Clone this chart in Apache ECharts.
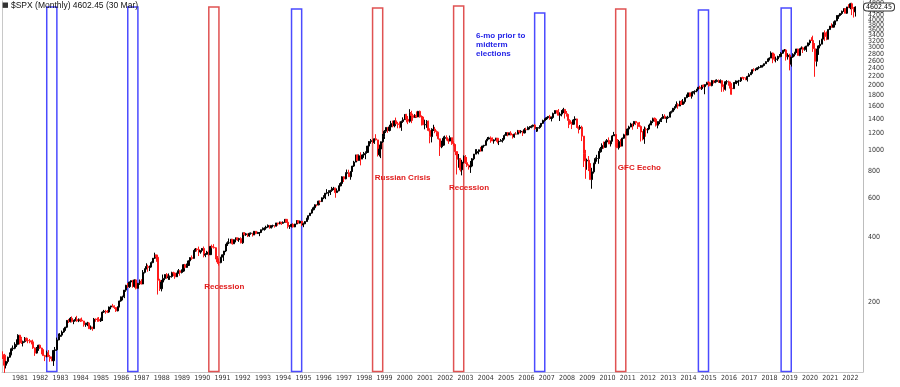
<!DOCTYPE html>
<html><head><meta charset="utf-8">
<script src="https://cdn.jsdelivr.net/npm/echarts@6/dist/echarts.min.js"></script>
<style>html,body{margin:0;padding:0;background:#fff}#c{width:900px;height:387px}</style>
</head><body><div id="c"></div>
<script>
// ---------------- DATA ----------------
const titleText = '$SPX (Monthly) 4602.45 (30 Mar)';
const startYear = 1980, startMonth = 2;      // first monthly bar: Feb 1980
const firstOpen = 114.16;                     // Jan 1980 close
const lastPrice = 4602.45;

// monthly closes
const closes = [
 113.66,102.09,106.29,111.24,114.24,121.67,122.38,125.46,127.47,140.52,135.76,
 129.55,131.27,136.00,132.81,132.59,131.21,130.92,122.79,116.18,121.89,126.35,122.55,
 120.40,113.11,111.96,116.44,111.88,109.61,107.09,119.51,120.42,133.71,138.54,140.64,
 145.30,148.06,152.96,164.42,162.39,168.11,162.56,164.40,166.07,163.55,166.40,164.93,
 163.41,157.06,159.18,160.05,150.55,153.18,150.66,166.68,166.10,166.09,163.58,167.24,
 179.63,181.18,180.66,179.83,189.55,191.85,190.92,188.63,182.08,189.82,202.17,211.28,
 211.78,226.92,238.90,235.52,247.35,250.84,236.12,252.93,231.32,243.98,249.22,242.17,
 274.08,284.20,291.70,288.36,290.10,304.00,318.66,329.80,321.83,251.79,230.30,247.08,
 257.07,267.82,258.89,261.33,262.16,273.50,272.02,261.52,271.91,278.97,273.70,277.72,
 297.47,288.86,294.87,309.64,320.52,317.98,346.08,351.45,349.15,340.36,345.99,353.40,
 329.08,331.89,339.94,330.80,361.23,358.02,356.15,322.56,306.05,304.00,322.22,330.22,
 343.93,367.07,375.22,375.35,389.83,371.16,387.81,395.43,387.86,392.45,375.22,417.09,
 408.79,412.70,403.69,414.95,415.35,408.14,424.21,414.03,417.80,418.68,431.35,435.71,
 438.78,443.38,451.67,440.19,450.19,450.53,448.13,463.56,458.93,467.83,461.79,466.45,
 481.61,467.14,445.77,450.91,456.50,444.27,458.26,475.49,462.69,472.35,453.69,459.27,
 470.42,487.39,500.71,514.71,533.40,544.75,562.06,561.88,584.41,581.50,605.37,615.93,
 636.02,640.43,645.50,654.17,669.12,670.63,639.95,651.99,687.31,705.27,757.02,740.74,
 786.16,790.82,757.12,801.34,848.28,885.14,954.29,899.47,947.28,914.62,955.40,970.43,
 980.28,1049.34,1101.75,1111.75,1090.82,1133.84,1120.67,957.28,1017.01,1098.67,1163.63,1229.23,
 1279.64,1238.33,1286.37,1335.18,1301.84,1372.71,1328.72,1320.41,1282.71,1362.93,1388.91,1469.25,
 1394.46,1366.42,1498.58,1452.43,1420.60,1454.60,1430.83,1517.68,1436.51,1429.40,1314.95,1320.28,
 1366.01,1239.94,1160.33,1249.46,1255.82,1224.42,1211.23,1133.58,1040.94,1059.78,1139.45,1148.08,
 1130.20,1106.73,1147.39,1076.92,1067.14,989.82,911.62,916.07,815.28,885.76,936.31,879.82,
 855.70,841.15,848.18,916.92,963.59,974.50,990.31,1008.01,995.97,1050.71,1058.20,1111.92,
 1131.13,1144.94,1126.21,1107.30,1120.68,1140.84,1101.72,1104.24,1114.58,1130.20,1173.82,1211.92,
 1181.27,1203.60,1180.59,1156.85,1191.50,1191.33,1234.18,1220.33,1228.81,1207.01,1249.48,1248.29,
 1280.08,1280.66,1294.87,1310.61,1270.09,1270.20,1276.66,1303.82,1335.85,1377.94,1400.63,1418.30,
 1438.24,1406.82,1420.86,1482.37,1530.62,1503.35,1455.27,1473.99,1526.75,1549.38,1481.14,1468.36,
 1378.55,1330.63,1322.70,1385.59,1400.38,1280.00,1267.38,1282.83,1166.36,968.75,896.24,903.25,
 825.88,735.09,797.87,872.81,919.14,919.32,987.48,1020.62,1057.08,1036.19,1095.63,1115.10,
 1073.87,1104.49,1169.43,1186.69,1089.41,1030.71,1101.60,1049.33,1141.20,1183.26,1180.55,1257.64,
 1286.12,1327.22,1325.83,1363.61,1345.20,1320.64,1292.28,1218.89,1131.42,1253.30,1246.96,1257.60,
 1312.41,1365.68,1408.47,1397.91,1310.33,1362.16,1379.32,1406.58,1440.67,1412.16,1416.18,1426.19,
 1498.11,1514.68,1569.19,1597.57,1630.74,1606.28,1685.73,1632.97,1681.55,1756.54,1805.81,1848.36,
 1782.59,1859.45,1872.34,1883.95,1923.57,1960.23,1930.67,2003.37,1972.29,2018.05,2067.56,2058.90,
 1994.99,2104.50,2067.89,2085.51,2107.39,2063.11,2103.84,1972.18,1920.03,2079.36,2080.41,2043.94,
 1940.24,1932.23,2059.74,2065.30,2096.95,2098.86,2173.60,2170.95,2168.27,2126.15,2198.81,2238.83,
 2278.87,2363.64,2362.72,2384.20,2411.80,2423.41,2470.30,2471.65,2519.36,2575.26,2647.58,2673.61,
 2823.81,2713.83,2640.87,2648.05,2705.27,2718.37,2816.29,2901.52,2913.98,2711.74,2760.17,2506.85,
 2704.10,2784.49,2834.40,2945.83,2752.06,2941.76,2980.38,2926.46,2976.74,3037.56,3140.98,3230.78,
 3225.52,2954.22,2584.59,2912.43,3044.31,3100.29,3271.12,3500.31,3363.00,3269.96,3621.63,3756.07,
 3714.24,3811.15,3972.89,4181.17,4204.11,4297.50,4395.26,4522.68,4307.54,4605.38,4567.00,4766.18,
 4515.55,4373.94,4602.45
];

// monthly highs
const highs = [
 118.4,115.3,106.9,111.9,117.0,123.0,126.0,130.4,134.5,141.96,141.0,
 138.1,132.6,137.8,137.0,134.2,135.0,133.0,134.0,123.5,124.0,127.0,127.3,
 123.0,121.0,114.0,119.3,119.9,114.0,112.0,120.0,124.0,137.0,143.0,143.7,
 147.7,151.3,153.7,165.0,167.0,170.4,171.6,165.5,170.0,172.6,168.0,167.7,
 169.5,163.6,160.5,162.0,161.5,155.8,153.5,168.8,168.0,169.6,170.4,169.3,
 181.0,183.9,183.9,183.6,190.6,192.0,196.0,193.0,189.5,191.0,203.0,212.0,
 213.9,227.0,240.0,244.7,248.0,251.8,253.0,254.0,254.0,245.0,254.0,254.9,
 280.9,286.0,301.9,297.3,294.7,308.0,319.2,337.9,330.0,328.0,256.0,253.0,
 267.8,268.5,272.0,271.0,265.0,276.0,276.0,274.0,273.0,284.0,281.0,283.0,
 298.0,300.0,301.0,311.0,322.0,328.0,347.0,355.0,354.0,360.4,346.0,355.0,
 360.6,336.0,344.5,346.0,362.0,368.0,369.8,358.0,326.0,318.0,323.0,332.0,
 344.0,371.0,381.0,393.0,390.0,391.0,389.0,397.0,396.0,393.0,398.0,418.0,
 420.8,417.0,414.0,418.0,419.0,417.0,425.0,425.0,422.0,421.0,432.0,442.0,
 442.0,450.0,456.0,452.0,453.0,455.0,451.0,464.0,464.0,470.0,468.0,471.0,
 483.0,483.0,472.0,453.0,458.0,462.0,459.0,477.0,476.0,475.0,473.0,465.0,
 473.0,489.0,502.0,515.0,535.0,551.0,565.0,565.0,586.0,588.0,608.0,622.0,
 637.0,664.0,656.0,659.0,680.0,680.0,675.0,669.0,690.0,714.0,762.0,761.0,
 794.0,817.7,816.0,804.0,851.0,897.0,957.0,961.0,960.0,983.0,961.0,986.0,
 992.0,1050.0,1106.0,1131.0,1124.0,1139.0,1190.6,1121.0,1066.0,1103.0,1193.0,1244.0,
 1280.0,1283.0,1316.0,1372.0,1375.0,1375.0,1420.3,1357.0,1362.0,1375.0,1424.0,1473.0,
 1478.0,1445.0,1553.0,1527.0,1481.0,1474.0,1517.0,1525.0,1530.0,1454.0,1438.0,1389.0,
 1383.0,1376.0,1268.0,1269.0,1316.0,1287.0,1239.0,1222.0,1135.0,1111.0,1163.0,1173.0,
 1176.0,1131.0,1173.0,1147.0,1106.0,1070.0,994.0,965.0,925.0,907.0,951.0,954.0,
 935.0,864.0,895.9,924.0,965.0,1015.3,1015.4,1011.0,1040.0,1054.0,1063.0,1112.0,
 1155.0,1158.0,1163.0,1150.6,1128.0,1146.0,1141.0,1109.0,1131.0,1142.0,1188.0,1217.0,
 1217.0,1212.0,1229.0,1192.0,1199.0,1219.0,1246.0,1245.0,1243.0,1233.0,1270.0,1276.0,
 1294.0,1297.0,1310.0,1318.0,1326.7,1284.0,1280.0,1306.0,1340.0,1389.0,1407.0,1431.0,
 1441.0,1461.6,1438.0,1498.0,1535.0,1540.6,1555.9,1503.0,1538.7,1576.1,1545.0,1523.6,
 1471.8,1396.0,1359.7,1397.0,1440.2,1404.0,1292.0,1313.0,1303.0,1167.0,1007.5,918.9,
 943.8,875.0,832.9,879.0,930.2,956.2,996.7,1039.5,1080.2,1101.4,1113.7,1130.4,
 1150.5,1112.4,1180.2,1219.8,1173.6,1131.2,1120.9,1129.2,1148.9,1196.1,1227.1,1262.6,
 1302.7,1344.1,1332.3,1366.0,1370.6,1345.2,1356.5,1307.4,1229.3,1292.7,1277.6,1269.4,
 1333.5,1378.0,1419.2,1422.4,1415.3,1363.5,1391.7,1426.7,1474.5,1471.0,1434.3,1448.0,
 1509.9,1530.9,1570.3,1597.6,1687.2,1654.2,1698.8,1709.7,1729.9,1759.8,1813.6,1849.4,
 1850.8,1867.9,1884.0,1897.3,1924.0,1968.2,1991.4,2005.0,2019.3,2018.2,2075.8,2093.6,
 2064.4,2119.6,2117.5,2125.9,2134.7,2129.9,2132.8,2112.7,2020.9,2094.3,2116.5,2104.3,
 2081.6,1963.0,2072.2,2111.0,2099.1,2120.6,2177.1,2193.8,2187.9,2169.6,2214.1,2277.5,
 2301.0,2371.5,2401.0,2398.2,2418.7,2453.8,2484.0,2490.9,2519.4,2583.0,2657.7,2695.0,
 2872.9,2836.0,2801.9,2717.5,2742.2,2791.5,2848.0,2916.5,2940.9,2939.9,2815.2,2800.2,
 2709.0,2813.5,2860.3,2949.5,2954.1,2964.2,3028.0,3013.6,3022.0,3050.1,3154.3,3247.9,
 3337.8,3393.5,3136.7,2954.9,3068.7,3233.1,3280.0,3514.8,3588.1,3549.9,3646.0,3760.2,
 3870.9,3950.4,3983.9,4218.8,4238.0,4302.4,4430.0,4537.4,4545.9,4608.1,4743.8,4808.9,
 4818.6,4595.3,4637.3
];

// monthly lows
const lows = [
 109.1,94.2,98.7,104.0,110.5,113.5,119.0,121.0,124.0,126.3,127.4,
 128.0,124.7,129.8,131.6,129.0,129.0,127.5,121.5,112.8,115.5,119.0,121.3,
 114.7,112.6,106.7,111.0,111.6,106.0,106.6,101.4,117.5,119.0,133.0,134.0,
 138.3,144.0,147.3,151.5,160.0,160.9,161.0,158.0,163.0,162.0,161.5,161.7,
 162.5,153.8,153.6,154.7,150.3,149.0,147.3,150.5,162.0,162.0,162.3,161.8,
 163.4,178.0,176.5,177.8,178.4,185.0,189.0,185.8,180.0,181.0,189.0,200.5,
 203.5,208.4,222.9,232.0,232.3,240.0,233.0,233.0,228.7,231.0,240.0,241.0,
 241.8,271.0,283.0,276.0,278.0,289.5,302.0,316.0,306.6,216.5,225.0,223.9,
 242.6,252.0,256.0,253.0,253.0,259.0,263.0,256.0,261.0,270.0,264.4,271.0,
 275.3,286.0,288.0,294.0,306.0,313.0,317.0,341.0,342.0,326.0,334.0,339.0,
 321.4,322.0,330.0,327.0,330.0,354.0,353.0,315.0,300.0,294.5,302.0,322.0,
 309.4,340.0,363.0,370.0,373.0,368.0,371.0,377.0,383.0,379.0,373.0,371.0,
 406.0,404.0,399.0,400.0,409.0,401.0,407.0,411.0,412.0,402.7,417.0,428.0,
 427.0,431.0,440.0,436.0,437.0,442.0,441.0,446.0,450.0,457.0,454.0,459.0,
 464.0,464.0,436.9,435.0,442.0,441.0,443.0,457.0,461.0,460.0,448.0,443.0,
 457.0,469.0,480.0,500.0,511.0,530.0,542.0,553.0,559.0,570.0,579.0,597.0,
 597.0,629.0,616.0,624.0,645.0,657.0,605.9,638.0,648.0,685.0,703.0,716.0,
 737.0,773.0,756.0,733.5,798.0,840.0,884.0,893.0,898.0,855.0,913.0,926.0,
 912.8,980.0,1045.0,1076.0,1074.0,1074.0,1114.0,939.0,939.0,923.3,1086.0,1132.0,
 1205.0,1208.0,1226.0,1281.0,1281.0,1281.0,1324.0,1268.0,1268.0,1233.7,1343.0,1387.0,
 1350.0,1325.0,1346.0,1339.0,1373.0,1420.0,1416.0,1430.0,1419.0,1305.8,1312.0,1254.0,
 1274.0,1228.0,1081.0,1091.0,1232.0,1203.0,1165.0,1124.0,944.8,1026.0,1054.0,1114.0,
 1113.0,1074.0,1106.0,1063.0,1048.0,952.9,775.7,833.4,800.2,768.6,872.0,869.0,
 840.3,817.0,788.9,847.0,902.8,963.0,962.1,960.8,990.0,994.0,1031.2,1053.0,
 1105.0,1124.0,1087.0,1107.0,1076.3,1113.0,1078.8,1060.7,1101.0,1090.0,1127.0,1173.0,
 1163.8,1180.0,1176.0,1136.0,1146.0,1188.0,1191.0,1201.0,1201.0,1168.0,1201.0,1246.0,
 1245.0,1253.0,1268.0,1280.0,1245.3,1219.3,1224.5,1261.0,1290.0,1327.0,1360.0,1385.0,
 1403.0,1389.0,1363.9,1416.0,1476.0,1484.0,1454.0,1370.6,1439.0,1489.0,1406.1,1435.7,
 1270.1,1317.0,1257.0,1324.0,1373.0,1272.0,1200.4,1248.0,1106.4,839.8,741.0,815.7,
 804.5,734.5,666.8,783.3,866.1,888.9,869.3,978.5,992.3,1020.2,1029.4,1085.9,
 1071.6,1044.5,1105.2,1170.7,1040.8,1028.3,1010.9,1039.7,1048.1,1131.9,1173.0,1186.6,
 1257.6,1282.9,1249.0,1294.7,1311.8,1258.1,1282.9,1101.5,1114.2,1074.8,1158.7,1202.4,
 1258.9,1312.4,1340.0,1357.4,1292.0,1266.7,1325.4,1354.7,1396.6,1403.3,1343.4,1398.1,
 1426.2,1485.0,1501.5,1536.0,1581.3,1560.3,1604.6,1627.5,1633.4,1646.5,1746.2,1768.0,
 1770.5,1737.9,1834.4,1814.4,1859.8,1916.0,1930.7,1904.8,1964.0,1820.7,2001.0,1972.6,
 1988.4,1980.9,2039.7,2048.4,2067.9,2056.3,2044.0,1867.0,1871.9,1893.7,2019.4,1993.3,
 1812.3,1810.1,1937.1,2033.8,2025.9,1991.7,2074.0,2147.6,2119.1,2114.7,2083.8,2187.4,
 2245.1,2267.2,2322.3,2329.0,2352.7,2405.7,2407.7,2417.4,2446.6,2520.4,2566.2,2605.5,
 2682.4,2532.7,2585.9,2553.8,2594.6,2698.7,2699.0,2796.3,2864.1,2603.5,2631.1,2346.6,
 2444.0,2681.8,2722.3,2848.6,2750.5,2728.8,2952.2,2822.1,2891.9,2855.9,3050.7,3070.3,
 3214.6,2855.8,2191.9,2447.5,2766.6,2965.7,3101.2,3284.5,3209.5,3233.9,3279.7,3633.4,
 3694.1,3725.6,3723.3,3955.3,4056.9,4164.4,4233.1,4367.7,4305.9,4278.9,4560.0,4495.1,
 4222.6,4114.7,4157.9
];

// right-axis tick labels
const yTickValues = [200,400,600,800,1000,1200,1400,1600,1800,2000,2200,2400,2600,
  2800,3000,3200,3400,3600,3800,4000,4200,4400,4600,4800];

// highlighted windows (midterm-year boxes)
const boxStart = ['1982-04','1986-04','1990-04','1994-05','1998-05','2002-05','2006-05','2010-05','2014-06','2018-07'];
const boxEnd   = ['1982-10','1986-10','1990-10','1994-11','1998-11','2002-11','2006-11','2010-11','2014-12','2019-01'];
const boxTop   = [4604,4604,4604,4506,4554,4652,4320,4506,4459,4554];
const boxKind  = ['blue','blue','red','blue','red','red','blue','red','blue','blue'];

// text annotations
const noteTexts  = ['Recession','Russian Crisis','Recession','GFC Eecho','6-mo prior to\nmidterm\nelections'];
const noteMonths = ['1990-01','1998-06','2002-02','2010-06','2003-06'];
const noteValues = [234.6,747.5,672,831,3096];
const noteKind   = ['red','red','red','red','blue'];

// ---------------- BUILD ----------------
const PAD_AFTER = 4;
const categories = [];
for (let i = 0; i < closes.length + PAD_AFTER; i++) {
  const m0 = (startMonth - 1) + i;
  const y = startYear + Math.floor(m0 / 12);
  const m = (m0 % 12) + 1;
  categories.push(y + '-' + (m < 10 ? '0' + m : '' + m));
}
const candles = closes.map((c, i) => {
  const o = i === 0 ? firstOpen : closes[i - 1];
  return [o, c, lows[i], highs[i]];
});

const COLORS = { blue: '#4b4bff', red: '#e05252' };
const TEXTCOL = { blue: '#1f1fe6', red: '#e01b1b' };
const FONT = 'Liberation Sans, Arial, sans-serif';
const NARROW = 'Liberation Sans Narrow, DejaVu Sans Condensed, Liberation Sans, sans-serif';

const Y_MIN = 95.03, Y_MAX = 4906, BOX_BOTTOM = 95.5;

const chart = echarts.init(document.getElementById('c'), null, { renderer: 'canvas' });
chart.setOption({
  animation: false,
  backgroundColor: '#ffffff',
  textStyle: { fontFamily: FONT },
  title: {
    text: '{i|\u25A0} ' + titleText,
    left: 2, top: 1, padding: 0,
    textStyle: {
      fontSize: 8.5, fontWeight: 'normal', color: '#111', fontFamily: FONT,
      rich: { i: { fontSize: 7, color: '#333', fontFamily: 'DejaVu Sans' } }
    }
  },
  grid: { left: 2, right: 37, top: 1, bottom: 15, outerBoundsMode: 'none', containLabel: false },
  xAxis: {
    type: 'category',
    data: categories,
    boundaryGap: true,
    axisLine: { show: true, lineStyle: { color: '#c8c8c8', width: 1 } },
    axisTick: { show: false },
    splitLine: { show: false },
    axisLabel: {
      interval: (idx, val) => val.slice(5) === '01',
      formatter: (val) => val.slice(0, 4),
      fontSize: 7, color: '#333', margin: 3, fontFamily: NARROW,
      padding: [0, 3, 0, 0]
    }
  },
  yAxis: [{
    type: 'log', logBase: 10, position: 'right',
    min: Y_MIN, max: Y_MAX,
    axisLine: { show: true, lineStyle: { color: '#bdbdbd', width: 1 } },
    axisTick: { show: false },
    axisLabel: { show: false },
    splitLine: { show: false }
  }, {
    type: 'value', position: 'left', min: 0, max: 1,
    axisLine: { show: true, lineStyle: { color: '#c8c8c8', width: 1 } },
    axisTick: { show: false }, axisLabel: { show: false }, splitLine: { show: false }
  }],
  series: [{
    type: 'candlestick',
    yAxisIndex: 0,
    silent: true,
    clip: false,
    barWidth: 1.6,
    data: candles,
    itemStyle: {
      color: '#000000', color0: '#ff1a1a',
      borderColor: '#000000', borderColor0: '#ff1a1a', borderWidth: 1
    },
    markArea: {
      silent: true,
      label: { show: false },
      data: boxStart.map((s, i) => [
        { xAxis: s, yAxis: boxTop[i],
          itemStyle: { color: 'rgba(0,0,0,0)', borderColor: COLORS[boxKind[i]], borderWidth: 1.5 } },
        { xAxis: boxEnd[i], yAxis: BOX_BOTTOM }
      ])
    },
    markPoint: {
      silent: true,
      symbol: 'circle', symbolSize: 1,
      itemStyle: { color: 'rgba(0,0,0,0)' },
      data: noteTexts.map((t, i) => ({
        coord: [noteMonths[i], noteValues[i]],
        label: {
          show: true, position: 'right', distance: 0,
          formatter: t, color: TEXTCOL[noteKind[i]],
          fontSize: 8, fontWeight: 'bold', lineHeight: 9, fontFamily: FONT, align: 'left'
        }
      }))
    },
    markLine: {
      silent: true,
      symbol: ['none', 'none'],
      lineStyle: { color: 'rgba(0,0,0,0)', width: 1, type: 'solid' },
      label: {
        show: true, position: 'end', distance: 5,
        fontSize: 7, color: '#333', fontFamily: NARROW,
        formatter: (p) => String(p.value)
      },
      data: yTickValues.map(v => ({ yAxis: v })).concat([{
        yAxis: lastPrice,
        label: {
          show: true, position: 'end', distance: 1,
          formatter: lastPrice.toFixed(2),
          fontSize: 7, color: '#000', fontFamily: NARROW,
          backgroundColor: '#fff', borderColor: '#333', borderWidth: 1,
          borderRadius: 3, padding: [0, 2, 0, 2]
        }
      }])
    }
  }]
});
</script>
</body></html>
